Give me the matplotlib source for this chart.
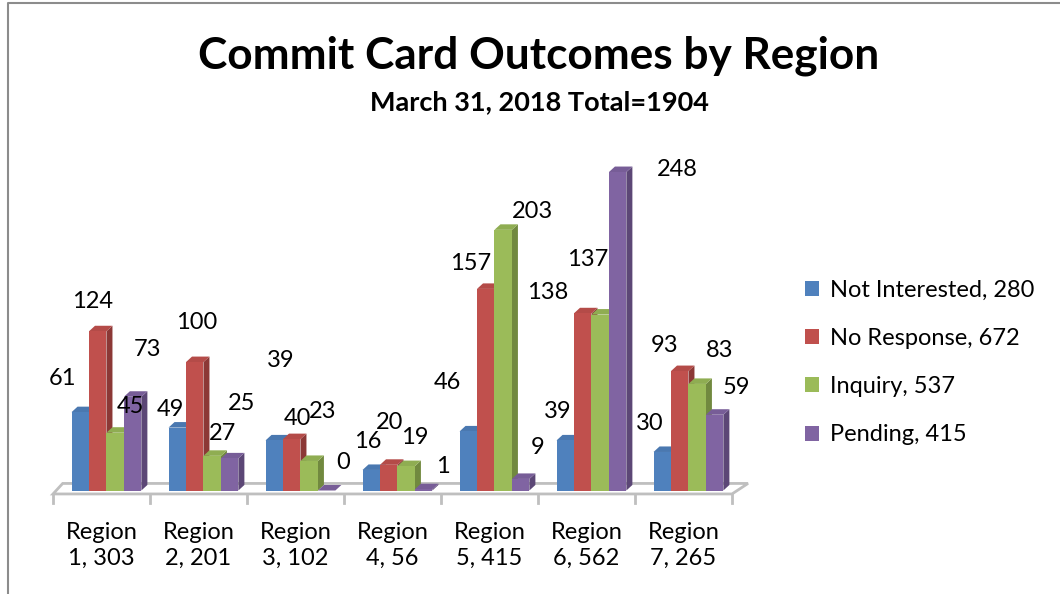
import numpy as np
import matplotlib.pyplot as plt
from matplotlib.patches import Polygon, Patch
from matplotlib.lines import Line2D

plt.rcParams["font.family"] = ["Lato", "DejaVu Sans"]

# ── Data ──────────────────────────────────────────────────────────────────────
REGIONS = ["Region\n1, 303", "Region\n2, 201", "Region\n3, 102", "Region\n4, 56",
           "Region\n5, 415", "Region\n6, 562", "Region\n7, 265"]
SERIES = ["Not Interested, 280", "No Response, 672", "Inquiry, 537", "Pending, 415"]
NOT_INTERESTED = [61, 49, 39, 16, 46, 39, 30]
NO_RESPONSE = [124, 100, 40, 20, 157, 138, 93]
INQUIRY = [45, 27, 23, 19, 203, 137, 83]
PENDING = [73, 25, 0, 1, 9, 248, 59]
VALUES = [NOT_INTERESTED, NO_RESPONSE, INQUIRY, PENDING]

# ── Style ─────────────────────────────────────────────────────────────────────
FRONT = ["#4F81BD", "#C0504D", "#9BBB59", "#8064A2"]
TOP = ["#4A78B0", "#B44B48", "#8FAD52", "#775D97"]
SIDE = ["#385D8A", "#8C3836", "#71893F", "#5C4776"]

# Excel's 3D labels sit oddly; offsets in pixels from each bar's top centre
LABEL_OFFSETS = [
    [(-18, 34), (-7, 18), (6, 80), (-3, 28), (-21, 49), (-8, 29), (-13, 28)],
    [(-5, 30), (2, 40), (6, 21), (1, 42), (-15, 25), (-35, 21), (-15, 26)],
    [(15, 26), (10, 22), (13, 49), (9, 29), (29, 18), (-13, 55), (22, 33)],
    [(15, 47), (12, 55), (16, 28), (19, 23), (17, 31), (60, 3), (22, 27)],
]

FS = 17
PX_X = 97.0     # pixels per category
PX_Y = 1.284    # pixels per count
BAR_W = 0.180
CLUSTER_LEFT = -0.309
DX, DY = 0.062, 4.3     # 3D depth of bars
FDX, FDY = 0.10, 8.2    # 3D depth of floor

fig = plt.figure(figsize=(10.6, 5.94), dpi=100)
# axes: pixels x 40..760, y 150..510 ; category 0 centre at px 101.5, baseline px 490.5
ax = fig.add_axes([40 / 1060, (594 - 510) / 594, 720 / 1060, 360 / 594])
ax.set_xlim((40 - 101.5) / PX_X, (760 - 101.5) / PX_X)
ax.set_ylim(-(510 - 490.5) / PX_Y, (490.5 - 150) / PX_Y)
ax.axis("off")

n = len(REGIONS)
# floor
f0, f1, fy = -0.5, n - 0.5, -2.7
ax.add_patch(Polygon([(f0, fy), (f1, fy), (f1 + FDX + 0.065, fy + FDY), (f0 + FDX, fy + FDY)],
                     closed=True, facecolor="white", edgecolor="#BFBFBF", lw=2, zorder=1))
for b in np.arange(n + 1) - 0.5:
    ax.plot([b, b], [fy, fy - 7], color="#BFBFBF", lw=2, zorder=1, clip_on=False)

z = 2
for i in range(n):
    for k, vals in enumerate(VALUES):
        v = vals[i]
        x0 = i + CLUSTER_LEFT + k * BAR_W
        x1 = x0 + BAR_W
        ax.add_patch(Polygon([(x1, 0), (x1 + DX, DY), (x1 + DX, v + DY), (x1, v)],
                             closed=True, facecolor=SIDE[k], edgecolor="none", zorder=z))
        ax.add_patch(Polygon([(x0, v), (x1, v), (x1 + DX, v + DY), (x0 + DX, v + DY)],
                             closed=True, facecolor=TOP[k], edgecolor="none", zorder=z))
        ax.bar(x0, v, width=BAR_W, align="edge", color=FRONT[k], edgecolor="none",
               zorder=z + 0.5)
        dx, dy = LABEL_OFFSETS[k][i]
        ax.annotate(str(v), xy=(x0 + BAR_W / 2, v), xytext=(dx, dy),
                    textcoords="offset pixels", ha="center", va="center",
                    fontsize=FS, color="black", zorder=50, annotation_clip=False)
        z += 1

for i, lab in enumerate(REGIONS):
    ax.text(i, (490.5 - 545.5) / PX_Y, lab, ha="center", va="center", fontsize=FS,
            linespacing=1.32, clip_on=False)

# titles
fig.text(539 / 1060, 1 - 56 / 594, "Commit Card Outcomes by Region", ha="center",
         va="center", fontsize=31.8, fontweight="bold")
fig.text(539 / 1060, 1 - 102 / 594, "March 31, 2018 Total=1904", ha="center",
         va="center", fontsize=19.5, fontweight="bold")

# legend
handles = [Patch(facecolor=c, edgecolor="none") for c in FRONT]
fig.legend(handles, SERIES, loc="upper left", bbox_to_anchor=(805 / 1060, 1 - 280 / 594),
           frameon=False, fontsize=FS, handlelength=0.6, handleheight=0.6,
           handletextpad=0.45, labelspacing=1.15, borderaxespad=0, borderpad=0)

# chart border (left and top edges visible)
fig.add_artist(Line2D([8 / 1060, 8 / 1060, 1], [0, 1 - 3 / 594, 1 - 3 / 594],
                      transform=fig.transFigure, color="#8C8C8C", lw=1.5))

fig.savefig("out.png", dpi=100)
